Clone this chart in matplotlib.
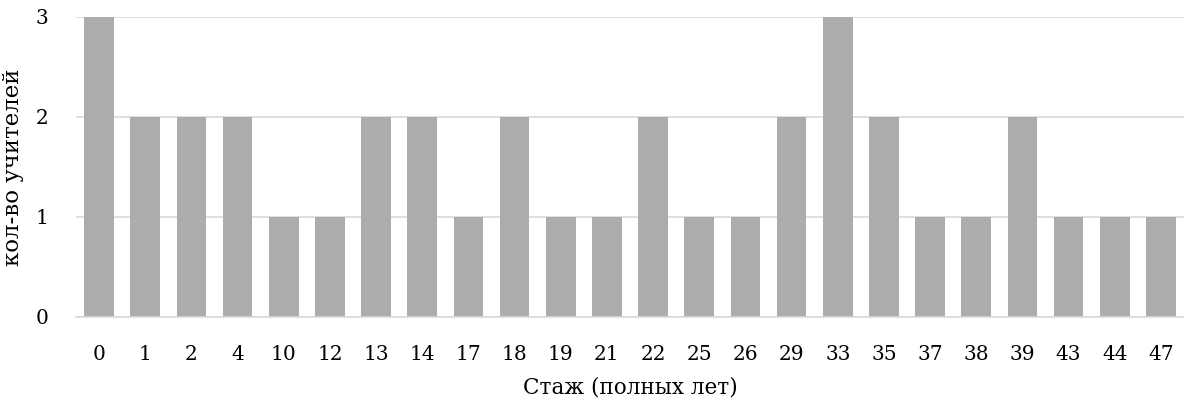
import matplotlib
matplotlib.use("Agg")
import matplotlib.pyplot as plt
import numpy as np

plt.rcParams['font.family'] = ['DejaVu Serif']

labels = ['0', '1', '2', '4', '10', '12', '13', '14', '17', '18', '19', '21',
          '22', '25', '26', '29', '33', '35', '37', '38', '39', '43', '44', '47']
counts = [3, 2, 2, 2, 1, 1, 2, 2, 1, 2, 1, 1, 2, 1, 1, 2, 3, 2, 1, 1, 2, 1, 1, 1]
FONT_SIZE = 14.5
BAR_COLOR = '#aeabab'
GRID_COLOR = '#d9d9d9'

x = np.arange(len(labels))
fig, ax = plt.subplots(figsize=(11.84, 4.0), dpi=100)
fig.subplots_adjust(left=0.0642, right=1.0, bottom=0.2075, top=0.9575)

ax.bar(x, counts, width=0.64, color=BAR_COLOR, zorder=2)
ax.set_xlim(-0.5, len(labels) - 0.5)
ax.set_ylim(0, 3)
ax.set_yticks([0, 1, 2, 3])
ax.yaxis.grid(True, color=GRID_COLOR, linewidth=1.2, zorder=0)
ax.set_axisbelow(True)
for s in ['top', 'right', 'left']:
    ax.spines[s].set_visible(False)
ax.spines['bottom'].set_color(GRID_COLOR)
ax.spines['bottom'].set_linewidth(1.2)
ax.tick_params(axis='both', length=0, labelsize=FONT_SIZE, colors='#000000')
ax.tick_params(axis='x', pad=20)
ax.tick_params(axis='y', pad=20)
ax.set_xticks(x)
ax.set_xticklabels(labels)

ax.set_xlabel('Стаж (полных лет)', fontsize=15.5, labelpad=9)
ax.set_ylabel('кол-во учителей', fontsize=16.5, labelpad=8)

plt.savefig("out.png", dpi=100)
